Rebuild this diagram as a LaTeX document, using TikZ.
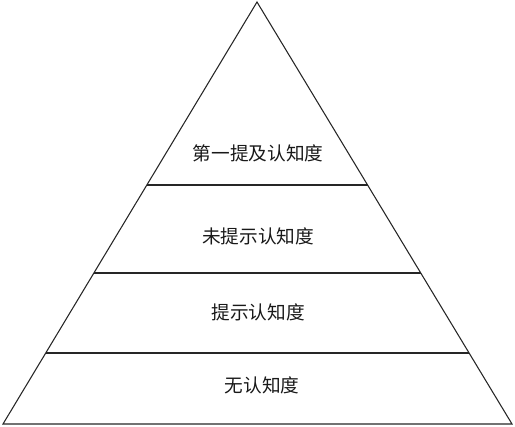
\documentclass[tikz,border=0pt]{standalone}
\usepackage{fontspec}
\newfontfamily\cjk{Noto Sans CJK SC}
\begin{document}
\begin{tikzpicture}[x=0.75pt,y=-0.75pt,
  edge/.style={draw=black!85, line width=0.8pt},
  lbl/.style={font=\cjk\fontsize{14}{16}\selectfont, text=black!90, inner sep=0pt}]
\useasboundingbox (0,0) rectangle (515,426);
\coordinate (apex) at (257,2);
\coordinate (bl) at (3,424);
\coordinate (br) at (512,424);
\coordinate (l1a) at (147,185);
\coordinate (l1b) at (368,185);
\coordinate (l2a) at (94,273);
\coordinate (l2b) at (421,273);
\coordinate (l3a) at (46,353);
\coordinate (l3b) at (469,353);
\draw[edge] (apex) -- (bl) -- (br) -- cycle;
\draw[edge] (l1a) -- (l1b);
\draw[edge] (l2a) -- (l2b);
\draw[edge] (l3a) -- (l3b);
\node[lbl] (t1) at (258,153) {第一提及认知度};
\node[lbl] (t2) at (258,236) {未提示认知度};
\node[lbl] (t3) at (258,312) {提示认知度};
\node[lbl] (t4) at (262,385) {无认知度};
\end{tikzpicture}
\end{document}
